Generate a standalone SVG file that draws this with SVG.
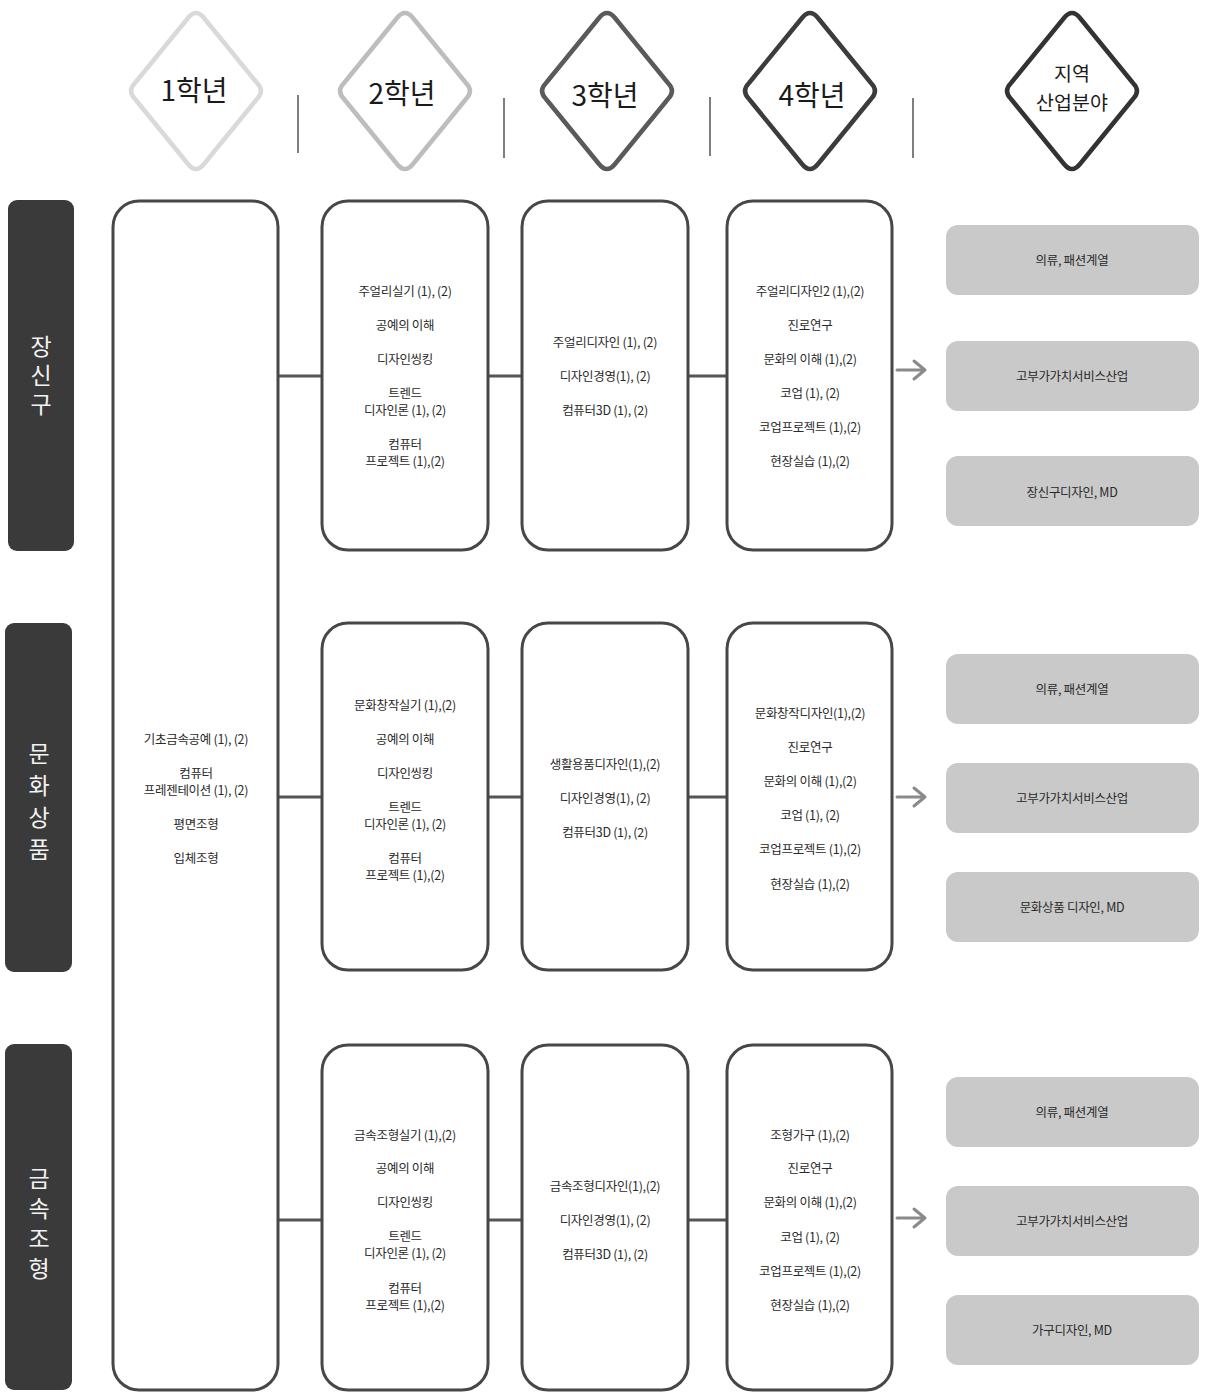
<svg xmlns="http://www.w3.org/2000/svg" width="1205" height="1392" viewBox="0 0 1205 1392">
  <defs>
    <style>
      .t { font-family: "Noto Sans CJK KR", "Noto Sans", sans-serif; font-size: 12.5px; fill: #2a2a2a; text-anchor: middle; letter-spacing: -0.3px; }
      .hd { font-family: "Noto Sans CJK KR", "Noto Sans", sans-serif; fill: #1a1a1a; text-anchor: middle; }
      .cat { fill: #3a3a3a; }
      .catT { font-family: "Noto Sans CJK KR", "Noto Sans", sans-serif; font-size: 23px; fill: #f2f2f2; text-anchor: middle; writing-mode: vertical-rl; text-orientation: upright; }
      .box { fill: #ffffff; stroke: #474747; stroke-width: 3; }
      .out { fill: #c9c9c9; }
      .link { stroke: #555555; stroke-width: 3; fill: none; }
      .sep { stroke: #555555; stroke-width: 1.5; }
      .arr { stroke: #8a8a8a; stroke-width: 3; fill: none; stroke-linecap: round; stroke-linejoin: round; }
      .dia { fill: #ffffff; stroke-width: 4.5; stroke-linejoin: round; }
    </style>
    <!-- rounded diamond badge for the year headers -->
    <path id="diamond" d="M -8,-73 Q 0,-83 8,-73 L 61,-8 Q 69,0 61,8 L 8,73 Q 0,83 -8,73 L -61,8 Q -69,0 -61,-8 Z"/>
  </defs>

  <rect width="1205" height="1392" fill="#ffffff"/>

  <!-- year headers -->
  <g id="header-y1">
    <use href="#diamond" x="196" y="91" class="dia" stroke="#d9d9d9"/>
    <text class="hd" x="194" y="101" font-size="28">1학년</text>
  </g>
  <g id="header-y2">
    <use href="#diamond" x="405" y="91" class="dia" stroke="#bdbdbd"/>
    <text class="hd" x="402" y="104" font-size="28">2학년</text>
  </g>
  <g id="header-y3">
    <use href="#diamond" x="607" y="91" class="dia" stroke="#5a5a5a"/>
    <text class="hd" x="605" y="106" font-size="28">3학년</text>
  </g>
  <g id="header-y4">
    <use href="#diamond" x="810" y="91" class="dia" stroke="#3c3c3c"/>
    <text class="hd" x="812" y="106" font-size="28">4학년</text>
  </g>
  <g id="header-region">
    <use href="#diamond" x="1072" y="91" class="dia" stroke="#333333"/>
    <text class="hd" font-size="19.5"><tspan x="1072" y="81">지역</tspan><tspan x="1072" y="110">산업분야</tspan></text>
  </g>

  <g id="header-separators">
    <line class="sep" x1="298" y1="95" x2="298" y2="153"/>
    <line class="sep" x1="504" y1="98" x2="504" y2="158"/>
    <line class="sep" x1="710" y1="97" x2="710" y2="156"/>
    <line class="sep" x1="913" y1="98" x2="913" y2="158"/>
  </g>

  <!-- track labels, set vertically -->
  <g id="track-jewelry">
    <rect class="cat" x="8" y="200" width="66" height="351" rx="9"/>
    <text class="catT" x="41" y="378" letter-spacing="6">장신구</text>
  </g>
  <g id="track-culture">
    <rect class="cat" x="5" y="623" width="67" height="349" rx="9"/>
    <text class="catT" x="39" y="806" letter-spacing="9">문화상품</text>
  </g>
  <g id="track-metal">
    <rect class="cat" x="5" y="1044" width="67" height="346" rx="9"/>
    <text class="catT" x="39" y="1227" letter-spacing="7">금속조형</text>
  </g>

  <!-- connectors -->
  <g id="connectors">
    <line class="link" x1="278" y1="376" x2="322" y2="376"/>
    <line class="link" x1="488" y1="376" x2="522" y2="376"/>
    <line class="link" x1="688" y1="376" x2="727" y2="376"/>
    <line class="link" x1="278" y1="797" x2="322" y2="797"/>
    <line class="link" x1="488" y1="797" x2="522" y2="797"/>
    <line class="link" x1="688" y1="797" x2="727" y2="797"/>
    <line class="link" x1="278" y1="1220" x2="322" y2="1220"/>
    <line class="link" x1="488" y1="1220" x2="522" y2="1220"/>
    <line class="link" x1="688" y1="1220" x2="727" y2="1220"/>
    <path class="arr" d="M 897,370 H 925 M 914,361 L 925,370 L 914,379"/>
    <path class="arr" d="M 897,797 H 925 M 914,788 L 925,797 L 914,806"/>
    <path class="arr" d="M 897,1218 H 925 M 914,1209 L 925,1218 L 914,1227"/>
  </g>

  <!-- first year (shared) -->
  <g id="year1">
    <rect class="box" x="113" y="201" width="165" height="1189" rx="26"/>
    <text class="t" x="196" y="744">기초금속공예 (1), (2)</text>
    <text class="t" x="196" y="778">컴퓨터</text>
    <text class="t" x="196" y="795">프레젠테이션 (1), (2)</text>
    <text class="t" x="196" y="829">평면조형</text>
    <text class="t" x="196" y="863">입체조형</text>
  </g>

  <!-- jewelry track -->
  <g id="jewelry-y2">
    <rect class="box" x="322" y="201" width="166" height="349" rx="26"/>
    <text class="t" x="405" y="296">주얼리실기 (1), (2)</text>
    <text class="t" x="405" y="330">공예의 이해</text>
    <text class="t" x="405" y="364">디자인씽킹</text>
    <text class="t" x="405" y="398">트렌드</text>
    <text class="t" x="405" y="415">디자인론 (1), (2)</text>
    <text class="t" x="405" y="449">컴퓨터</text>
    <text class="t" x="405" y="466">프로젝트 (1),(2)</text>
  </g>
  <g id="jewelry-y3">
    <rect class="box" x="522" y="201" width="166" height="349" rx="26"/>
    <text class="t" x="605" y="347">주얼리디자인 (1), (2)</text>
    <text class="t" x="605" y="381">디자인경영(1), (2)</text>
    <text class="t" x="605" y="415">컴퓨터3D (1), (2)</text>
  </g>
  <g id="jewelry-y4">
    <rect class="box" x="727" y="201" width="165" height="349" rx="26"/>
    <text class="t" x="810" y="296">주얼리디자인2 (1),(2)</text>
    <text class="t" x="810" y="330">진로연구</text>
    <text class="t" x="810" y="364">문화의 이해 (1),(2)</text>
    <text class="t" x="810" y="398">코업 (1), (2)</text>
    <text class="t" x="810" y="432">코업프로젝트 (1),(2)</text>
    <text class="t" x="810" y="466">현장실습 (1),(2)</text>
  </g>
  <g id="jewelry-out">
    <rect class="out" x="946" y="225" width="253" height="70" rx="12"/>
    <text class="t" x="1072" y="265">의류, 패션계열</text>
    <rect class="out" x="946" y="341" width="253" height="70" rx="12"/>
    <text class="t" x="1072" y="381">고부가가치서비스산업</text>
    <rect class="out" x="946" y="456" width="253" height="70" rx="12"/>
    <text class="t" x="1072" y="497">장신구디자인, MD</text>
  </g>

  <!-- culture product track -->
  <g id="culture-y2">
    <rect class="box" x="322" y="623" width="166" height="347" rx="26"/>
    <text class="t" x="405" y="710">문화창작실기 (1),(2)</text>
    <text class="t" x="405" y="744">공예의 이해</text>
    <text class="t" x="405" y="778">디자인씽킹</text>
    <text class="t" x="405" y="812">트렌드</text>
    <text class="t" x="405" y="829">디자인론 (1), (2)</text>
    <text class="t" x="405" y="863">컴퓨터</text>
    <text class="t" x="405" y="880">프로젝트 (1),(2)</text>
  </g>
  <g id="culture-y3">
    <rect class="box" x="522" y="623" width="166" height="347" rx="26"/>
    <text class="t" x="605" y="769">생활용품디자인(1),(2)</text>
    <text class="t" x="605" y="803">디자인경영(1), (2)</text>
    <text class="t" x="605" y="837">컴퓨터3D (1), (2)</text>
  </g>
  <g id="culture-y4">
    <rect class="box" x="727" y="623" width="165" height="347" rx="26"/>
    <text class="t" x="810" y="718">문화창작디자인(1),(2)</text>
    <text class="t" x="810" y="752">진로연구</text>
    <text class="t" x="810" y="786">문화의 이해 (1),(2)</text>
    <text class="t" x="810" y="820">코업 (1), (2)</text>
    <text class="t" x="810" y="854">코업프로젝트 (1),(2)</text>
    <text class="t" x="810" y="889">현장실습 (1),(2)</text>
  </g>
  <g id="culture-out">
    <rect class="out" x="946" y="654" width="253" height="70" rx="12"/>
    <text class="t" x="1072" y="694">의류, 패션계열</text>
    <rect class="out" x="946" y="763" width="253" height="70" rx="12"/>
    <text class="t" x="1072" y="803">고부가가치서비스산업</text>
    <rect class="out" x="946" y="872" width="253" height="70" rx="12"/>
    <text class="t" x="1072" y="912">문화상품 디자인, MD</text>
  </g>

  <!-- metal forming track -->
  <g id="metal-y2">
    <rect class="box" x="322" y="1045" width="166" height="345" rx="26"/>
    <text class="t" x="405" y="1140">금속조형실기 (1),(2)</text>
    <text class="t" x="405" y="1173">공예의 이해</text>
    <text class="t" x="405" y="1207">디자인씽킹</text>
    <text class="t" x="405" y="1241">트렌드</text>
    <text class="t" x="405" y="1258">디자인론 (1), (2)</text>
    <text class="t" x="405" y="1293">컴퓨터</text>
    <text class="t" x="405" y="1310">프로젝트 (1),(2)</text>
  </g>
  <g id="metal-y3">
    <rect class="box" x="522" y="1045" width="166" height="345" rx="26"/>
    <text class="t" x="605" y="1191">금속조형디자인(1),(2)</text>
    <text class="t" x="605" y="1225">디자인경영(1), (2)</text>
    <text class="t" x="605" y="1259">컴퓨터3D (1), (2)</text>
  </g>
  <g id="metal-y4">
    <rect class="box" x="727" y="1045" width="165" height="345" rx="26"/>
    <text class="t" x="810" y="1140">조형가구 (1),(2)</text>
    <text class="t" x="810" y="1173">진로연구</text>
    <text class="t" x="810" y="1207">문화의 이해 (1),(2)</text>
    <text class="t" x="810" y="1242">코업 (1), (2)</text>
    <text class="t" x="810" y="1276">코업프로젝트 (1),(2)</text>
    <text class="t" x="810" y="1310">현장실습 (1),(2)</text>
  </g>
  <g id="metal-out">
    <rect class="out" x="946" y="1077" width="253" height="70" rx="12"/>
    <text class="t" x="1072" y="1117">의류, 패션계열</text>
    <rect class="out" x="946" y="1186" width="253" height="70" rx="12"/>
    <text class="t" x="1072" y="1226">고부가가치서비스산업</text>
    <rect class="out" x="946" y="1295" width="253" height="70" rx="12"/>
    <text class="t" x="1072" y="1335">가구디자인, MD</text>
  </g>
</svg>
